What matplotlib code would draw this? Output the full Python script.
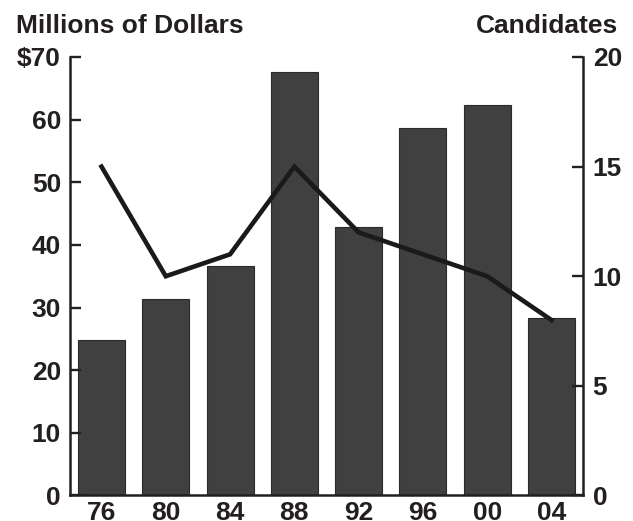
import matplotlib.pyplot as plt

plt.rcParams['font.family'] = ['Liberation Sans', 'DejaVu Sans']
plt.rcParams['font.weight'] = 'bold'

years = ['76', '80', '84', '88', '92', '96', '00', '04']
dollars = [24.8, 31.4, 36.6, 67.6, 42.9, 58.6, 62.3, 28.4]
candidates = [15, 10, 11, 15, 12, 11, 10, 8]
left_ticks = [0, 10, 20, 30, 40, 50, 60, 70]
left_labels = ['0', '10', '20', '30', '40', '50', '60', '$70']
right_ticks = [0, 5, 10, 15, 20]

ink = '#231f20'
x = list(range(len(years)))

fig = plt.figure(figsize=(6.33, 5.21), dpi=100)
ax = fig.add_axes([0.1106, 0.049, 0.8104, 0.8416])

# bars (dollars) on the left axis
ax.bar(x, dollars, width=0.73, color='#404040', edgecolor='#2a2a2a', linewidth=0.8)
ax.set_xlim(-0.49, 7.49)
ax.set_ylim(0, 70)
ax.set_yticks(left_ticks)
ax.set_yticklabels(left_labels)
ax.set_xticks(x)
ax.set_xticklabels(years)
ax.tick_params(axis='y', direction='in', length=8, width=1.7, pad=6.5,
               labelsize=19, colors=ink)
ax.tick_params(axis='x', length=0, pad=4, labelsize=19, colors=ink)

# line (candidates) on the right axis
ax2 = ax.twinx()
ax2.plot(x, candidates, color='#1a1a1a', linewidth=3.3, solid_joinstyle='miter')
ax2.set_ylim(0, 20)
ax2.set_yticks(right_ticks)
ax2.tick_params(axis='y', direction='in', length=8, width=1.7, pad=7,
                labelsize=19, colors=ink)

for a in (ax, ax2):
    a.spines['top'].set_visible(False)
    for s in ('left', 'right', 'bottom'):
        a.spines[s].set_linewidth(1.8)
        a.spines[s].set_color(ink)
ax.spines['right'].set_visible(False)
ax2.spines['left'].set_visible(False)
ax2.spines['bottom'].set_visible(False)

fig.text(0.025, 0.937, 'Millions of Dollars', fontsize=19, color=ink,
         ha='left', va='baseline')
fig.text(0.976, 0.937, 'Candidates', fontsize=19, color=ink,
         ha='right', va='baseline')

fig.savefig('out.png', dpi=100)
